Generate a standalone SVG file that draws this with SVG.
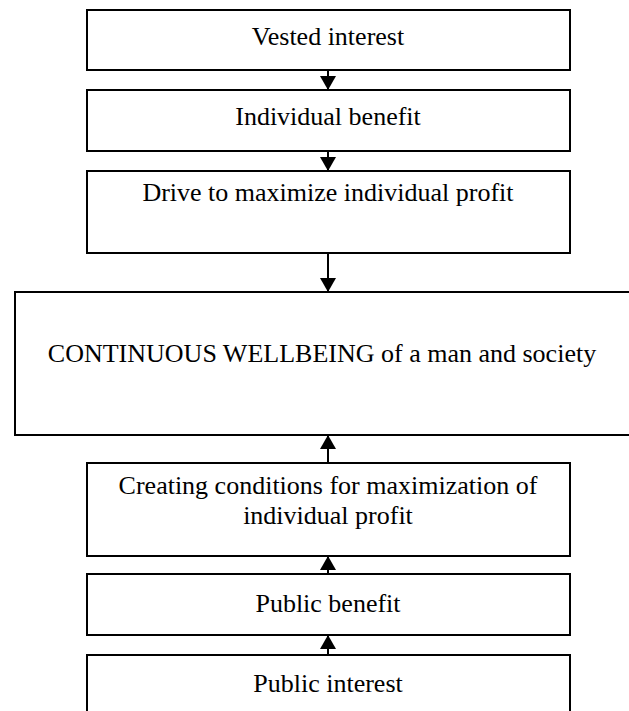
<svg xmlns="http://www.w3.org/2000/svg" width="629" height="711" viewBox="0 0 629 711">
<style>
.box{fill:#fff;stroke:#000;stroke-width:2}
.t{font-family:"Liberation Serif","Times New Roman","DejaVu Serif",serif;font-size:26px;fill:#000;text-anchor:middle}
.c{stroke:#000;stroke-width:2;fill:none}
</style>
<defs>
<marker id="ah" viewBox="0 0 14 16" refX="14" refY="8" markerWidth="14" markerHeight="16" markerUnits="userSpaceOnUse" orient="auto">
<path d="M0,0 L14,8 L0,16 Z" fill="#000"/>
</marker>
</defs>
<rect width="629" height="711" fill="#fff"/>
<g id="n1"><rect class="box" x="87" y="10" width="483" height="60"/><text class="t" x="328" y="45">Vested interest</text></g>
<g id="n2"><rect class="box" x="87" y="90" width="483" height="61"/><text class="t" x="328" y="125">Individual benefit</text></g>
<g id="n3"><rect class="box" x="87" y="171" width="483" height="82"/><text class="t" x="328" y="201">Drive to maximize individual profit</text></g>
<g id="n4"><rect class="box" x="15" y="292" width="620" height="143"/><text class="t" x="322" y="362">CONTINUOUS WELLBEING of a man and society</text></g>
<g id="n5"><rect class="box" x="87" y="463" width="483" height="93"/><text class="t" x="328" y="494">Creating conditions for maximization of</text><text class="t" x="328" y="524">individual profit</text></g>
<g id="n6"><rect class="box" x="87" y="574" width="483" height="61"/><text class="t" x="328" y="612">Public benefit</text></g>
<g id="n7"><rect class="box" x="87" y="655" width="483" height="70"/><text class="t" x="328" y="692">Public interest</text></g>
<g id="connectors">
<line class="c" x1="328" y1="70" x2="328" y2="90" marker-end="url(#ah)"/>
<line class="c" x1="328" y1="151" x2="328" y2="171" marker-end="url(#ah)"/>
<line class="c" x1="328" y1="253" x2="328" y2="292" marker-end="url(#ah)"/>
<line class="c" x1="328" y1="463" x2="328" y2="435" marker-end="url(#ah)"/>
<line class="c" x1="328" y1="574" x2="328" y2="556" marker-end="url(#ah)"/>
<line class="c" x1="328" y1="655" x2="328" y2="635" marker-end="url(#ah)"/>
</g>
</svg>
